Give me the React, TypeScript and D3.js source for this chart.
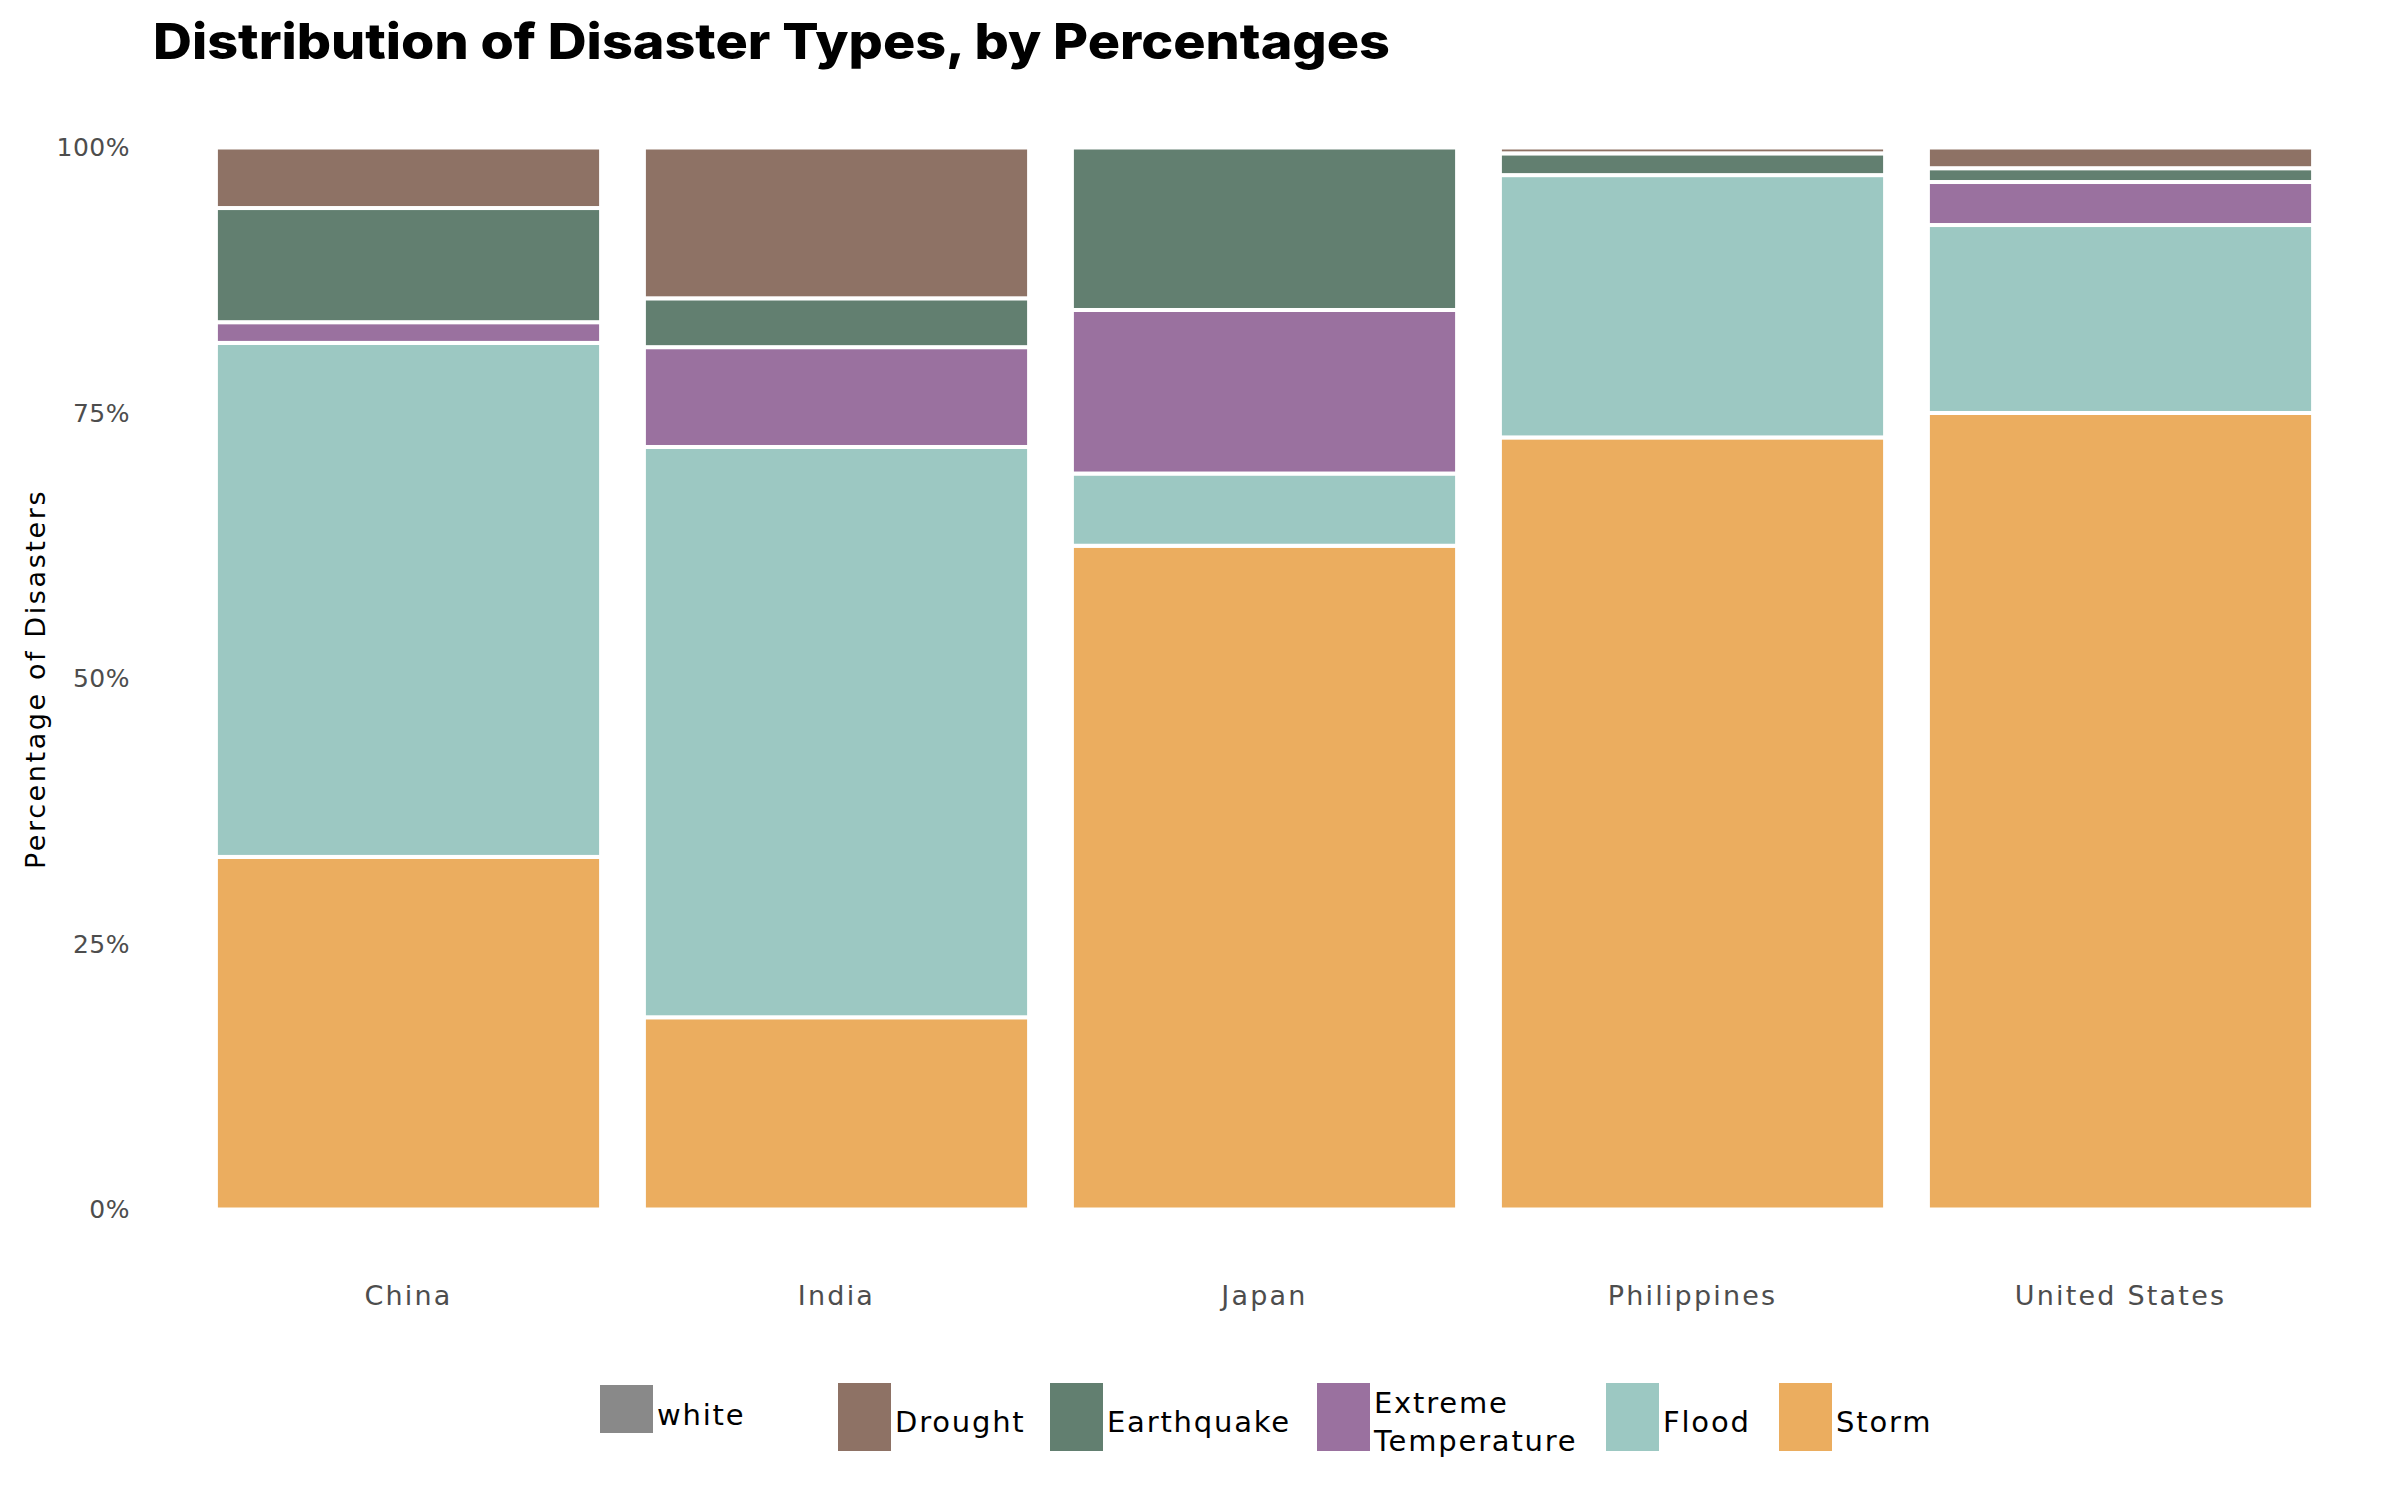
import React from "react";
import * as d3 from "d3";

const countries = ["China", "India", "Japan", "Philippines", "United States"];
const storm = [33.2, 18.1, 62.5, 72.7, 75.0];
const flood = [48.4, 53.7, 6.8, 24.7, 17.7];
const extremeTemperature = [1.95, 9.4, 15.4, 0, 4.05];
const earthquake = [10.75, 4.6, 15.3, 2.05, 1.3];
const drought = [5.7, 14.2, 0, 0.55, 1.95];
const yTicks = [0, 25, 50, 75, 100];

const stackKeys = ["Storm", "Flood", "Extreme Temperature", "Earthquake", "Drought"];
const colors: Record<string, string> = {
  white: "#898989",
  Drought: "#8e7265",
  Earthquake: "#627f70",
  "Extreme Temperature": "#9a719f",
  Flood: "#9cc8c2",
  Storm: "#ebad5f",
};
const legendItems = ["white", "Drought", "Earthquake", "Extreme Temperature", "Flood", "Storm"];

const W = 2400;
const H = 1500;
const axisFont = "'DejaVu Sans', sans-serif";

export default function App() {
  const rows = countries.map((c, i) => ({
    country: c,
    Storm: storm[i],
    Flood: flood[i],
    "Extreme Temperature": extremeTemperature[i],
    Earthquake: earthquake[i],
    Drought: drought[i],
  }));
  const series = d3.stack<any>().keys(stackKeys)(rows);

  const x = d3
    .scaleBand<string>()
    .domain(countries)
    .range([151.7, 2377.3])
    .paddingInner(0.1)
    .paddingOuter(0.15);
  const y = d3.scaleLinear().domain([0, 100]).range([1209.5, 147.5]);

  const legendX: Record<string, number> = {
    white: 600,
    Drought: 838,
    Earthquake: 1050,
    "Extreme Temperature": 1317,
    Flood: 1606,
    Storm: 1779,
  };

  return (
    <svg
      width={W}
      height={H}
      style={{ display: "block", background: "#fff", position: "absolute", left: 0, top: 0 }}
    >
      <rect x={0} y={0} width={W} height={H} fill="#fff" />
      <text
        x={153}
        y={59}
        fontFamily="Inter, 'DejaVu Sans', sans-serif"
        fontWeight={800}
        fontSize={50}
        textLength={1237}
        lengthAdjust="spacingAndGlyphs"
        fill="#000"
      >
        Distribution of Disaster Types, by Percentages
      </text>

      {/* y axis */}
      {yTicks.map((t) => (
        <text
          key={t}
          x={130}
          y={y(t)}
          textAnchor="end"
          dominantBaseline="central"
          fontFamily={axisFont}
          fontSize={25}
          letterSpacing={0.5}
          fill="#4d4d4d"
        >
          {t + "%"}
        </text>
      ))}
      <text
        transform={`translate(35,679) rotate(-90)`}
        textAnchor="middle"
        dominantBaseline="central"
        fontFamily={axisFont}
        fontSize={27}
        letterSpacing={2.6}
        fill="#000"
      >
        Percentage of Disasters
      </text>

      {/* bars */}
      {series.map((s) => (
        <g key={s.key} fill={colors[s.key]}>
          {s.map((d, i) =>
            d[1] - d[0] > 0 ? (
              <rect
                key={i}
                x={x(countries[i])}
                y={y(d[1])}
                width={x.bandwidth()}
                height={y(d[0]) - y(d[1])}
                stroke="#fff"
                strokeWidth={4}
              />
            ) : null
          )}
        </g>
      ))}

      {/* x axis labels */}
      {countries.map((c) => (
        <text
          key={c}
          x={(x(c) as number) + x.bandwidth() / 2}
          y={1295}
          textAnchor="middle"
          dominantBaseline="central"
          fontFamily={axisFont}
          fontSize={27}
          letterSpacing={2.2}
          fill="#4d4d4d"
        >
          {c}
        </text>
      ))}

      {/* legend */}
      {legendItems.map((k) => {
        const lx = legendX[k];
        const isWhite = k === "white";
        const ky = isWhite ? 1385 : 1383;
        const kh = isWhite ? 48 : 68;
        const kw = 53;
        return (
          <g key={k}>
            <rect x={lx} y={ky} width={kw} height={kh} fill={colors[k]} />
            {k === "Extreme Temperature" ? (
              <text fontFamily={axisFont} fontSize={29} letterSpacing={1.8} fill="#000">
                <tspan x={lx + kw + 4} y={1413}>Extreme</tspan>
                <tspan x={lx + kw + 4} y={1451}>Temperature</tspan>
              </text>
            ) : (
              <text
                x={lx + kw + 4}
                y={isWhite ? 1425 : 1432}
                fontFamily={axisFont}
                fontSize={29}
                letterSpacing={1.8}
                fill="#000"
              >
                {k}
              </text>
            )}
          </g>
        );
      })}
    </svg>
  );
}
